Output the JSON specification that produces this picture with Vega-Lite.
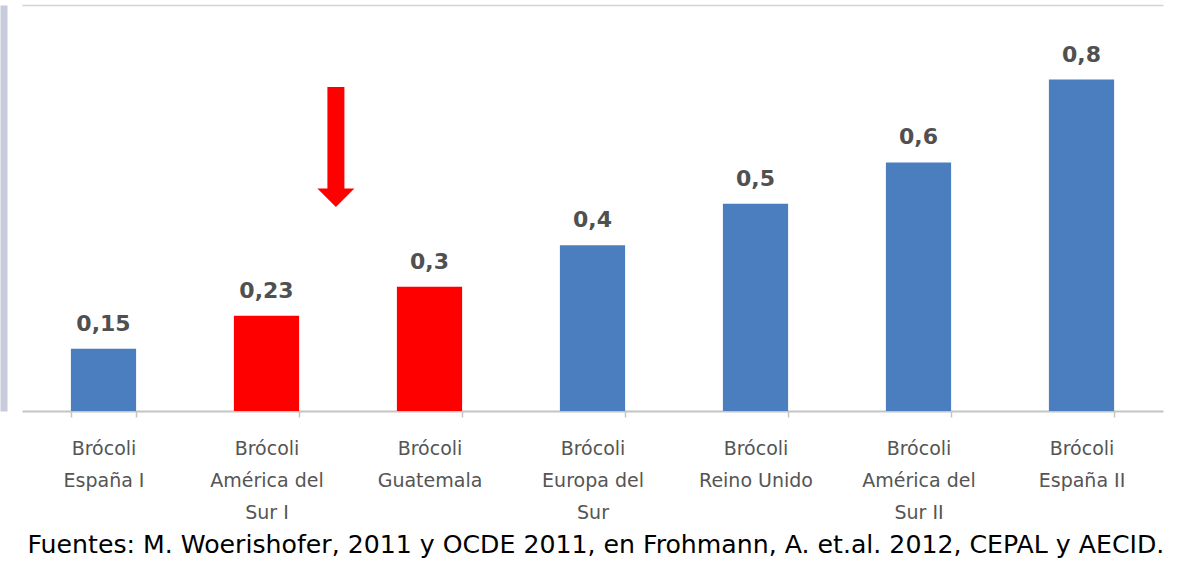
{
  "$schema": "https://vega.github.io/schema/vega-lite/v6.json",
  "width": 1141,
  "height": 406,
  "autosize": "none",
  "padding": {"left": 22, "top": 5, "right": 19, "bottom": 154},
  "background": "white",
  "config": {
    "view": {"stroke": null},
    "locale": {"number": {"decimal": ",", "thousands": ".", "grouping": [3], "currency": ["", " €"]}}
  },
  "datasets": {
    "bars": [
      {"cat": "Brócoli\nEspaña I", "value": 0.15, "grupo": "otro"},
      {"cat": "Brócoli\nAmérica del\nSur I", "value": 0.23, "grupo": "destacado"},
      {"cat": "Brócoli\nGuatemala", "value": 0.3, "grupo": "destacado"},
      {"cat": "Brócoli\nEuropa del\nSur", "value": 0.4, "grupo": "otro"},
      {"cat": "Brócoli\nReino Unido", "value": 0.5, "grupo": "otro"},
      {"cat": "Brócoli\nAmérica del\nSur II", "value": 0.6, "grupo": "otro"},
      {"cat": "Brócoli\nEspaña II", "value": 0.8, "grupo": "otro"}
    ],
    "arrow": [
      {"cat": "Brócoli\nAmérica del\nSur I", "top": 0.782, "shaftEnd": 0.535, "head": 0.515}
    ]
  },
  "layer": [
    {
      "data": {"name": "bars"},
      "mark": {"type": "bar", "width": {"band": 1}},
      "encoding": {
        "x": {
          "field": "cat", "type": "nominal", "sort": null,
          "scale": {"paddingInner": 0.6, "paddingOuter": 0.3},
          "axis": {
            "title": "Fuentes: M. Woerishofer, 2011 y OCDE 2011, en Frohmann, A. et.al. 2012, CEPAL y AECID.",
            "titleAnchor": "start", "titleAlign": "left", "titleBaseline": "alphabetic",
            "titleX": 5, "titleY": 141,
            "titleFont": "DejaVu Sans", "titleFontSize": 25.2, "titleFontWeight": "normal", "titleColor": "#000000",
            "labelExpr": "split(datum.label, '\\n')",
            "labelAngle": 0, "labelFont": "DejaVu Sans", "labelFontSize": 19, "labelColor": "#555555",
            "labelLineHeight": 32, "labelPadding": 22, "labelBaseline": "top",
            "domainColor": "#c4c4c4", "domainWidth": 2,
            "tickBand": "extent", "tickColor": "#c4c4c4", "tickSize": 6, "tickWidth": 1.5
          }
        },
        "y": {
          "field": "value", "type": "quantitative",
          "scale": {"domain": [0, 0.98], "nice": false, "zero": true},
          "axis": {
            "title": null, "labels": false, "ticks": false,
            "values": [0.98], "grid": true, "gridColor": "#d2d2d2", "gridWidth": 1.5,
            "domainColor": "#c8cbdc", "domainWidth": 7, "offset": 18.5
          }
        },
        "color": {
          "field": "grupo", "type": "nominal",
          "scale": {"domain": ["otro", "destacado"], "range": ["#4a7ebf", "#ff0000"]},
          "legend": null
        }
      }
    },
    {
      "data": {"name": "bars"},
      "mark": {"type": "text", "baseline": "alphabetic", "dy": -18, "font": "DejaVu Sans", "fontSize": 22, "fontWeight": "bold", "color": "#505050"},
      "encoding": {
        "x": {"field": "cat", "type": "nominal", "sort": null},
        "y": {"field": "value", "type": "quantitative"},
        "text": {"field": "value", "type": "quantitative", "format": ".2~f"}
      }
    },
    {
      "data": {"name": "arrow"},
      "mark": {"type": "rule", "color": "#ff0000", "strokeWidth": 17, "strokeCap": "butt"},
      "encoding": {
        "x": {"field": "cat", "type": "nominal", "sort": null},
        "xOffset": {"value": 102},
        "y": {"field": "top", "type": "quantitative"},
        "y2": {"field": "shaftEnd"}
      }
    },
    {
      "data": {"name": "arrow"},
      "mark": {"type": "point", "filled": true, "color": "#ff0000", "opacity": 1, "size": 1369, "shape": "M-1,-0.5L1,-0.5L0,0.5Z"},
      "encoding": {
        "x": {"field": "cat", "type": "nominal", "sort": null},
        "xOffset": {"value": 102},
        "y": {"field": "head", "type": "quantitative"}
      }
    }
  ]
}
